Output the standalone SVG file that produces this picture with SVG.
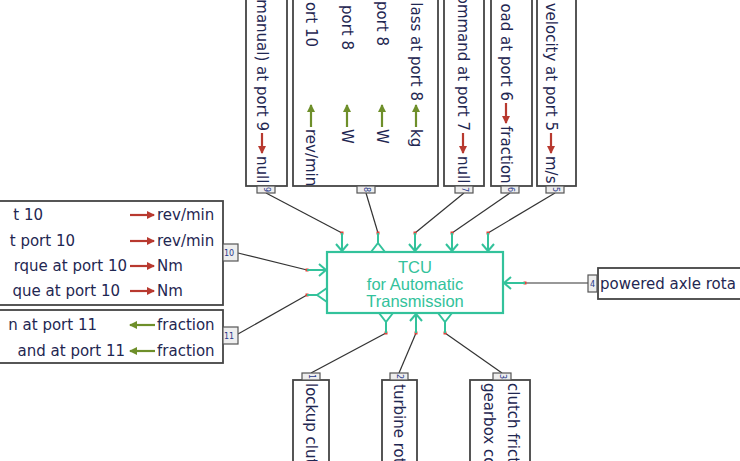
<svg xmlns="http://www.w3.org/2000/svg" width="740" height="461" viewBox="0 0 740 461">
  <style>
    .box { fill: #ffffff; stroke: #444444; stroke-width: 1.8; }
    .tab { fill: #eeeeee; stroke: #555555; stroke-width: 1.2; }
    .tabtxt { font-family: "DejaVu Sans", sans-serif; font-size: 8px; fill: #2a3a8a; }
    .lbl { font-family: "DejaVu Sans", sans-serif; font-size: 15px; fill: #1f2752; }
    .red { stroke: #b8392f; stroke-width: 2.2; fill: none; marker-end: url(#headRed); }
    .grn { stroke: #6e8f2a; stroke-width: 2.2; fill: none; marker-end: url(#headGrn); }
    .wire { stroke: #333333; stroke-width: 1.2; fill: none; }
    .dot { fill: #e0443a; }
    .tcu { fill: #ffffff; stroke: #33c29b; stroke-width: 2.2; }
    .port { stroke: #33c29b; stroke-width: 2; fill: none; stroke-linejoin: round; }
    .tcutxt { font-family: "Liberation Sans", Arial, sans-serif; font-size: 16.5px; fill: #33c29b; text-anchor: middle; }
  </style>
  <defs>
    <marker id="headRed" markerUnits="userSpaceOnUse" markerWidth="10" markerHeight="10" refX="8" refY="5" orient="auto">
      <path d="M1,1 L9,5 L1,9 Z" fill="#b8392f"/>
    </marker>
    <marker id="headGrn" markerUnits="userSpaceOnUse" markerWidth="10" markerHeight="10" refX="8" refY="5" orient="auto">
      <path d="M1,1 L9,5 L1,9 Z" fill="#6e8f2a"/>
    </marker>
  </defs>

  <!-- connectors -->
  <g id="connectors">
    <path class="wire" d="M266,193 L342,233"/>
    <path class="wire" d="M366,193 L378,233"/>
    <path class="wire" d="M464,193 L415,233"/>
    <path class="wire" d="M510,193 L452,233"/>
    <path class="wire" d="M555,193 L488,233"/>
    <path class="wire" d="M238,253 L307,270"/>
    <path class="wire" d="M238,334 L307,295"/>
    <path class="wire" d="M588,283 L525,283"/>
    <path class="wire" d="M386,333 L311,373"/>
    <path class="wire" d="M416,333 L399,373"/>
    <path class="wire" d="M445,333 L502,373"/>
    <rect class="dot" x="340.5" y="231.5" width="3" height="3"/>
    <rect class="dot" x="376.5" y="231.5" width="3" height="3"/>
    <rect class="dot" x="413.5" y="231.5" width="3" height="3"/>
    <rect class="dot" x="450.5" y="231.5" width="3" height="3"/>
    <rect class="dot" x="486.5" y="231.5" width="3" height="3"/>
    <rect class="dot" x="305.5" y="268.5" width="3" height="3"/>
    <rect class="dot" x="305.5" y="293.5" width="3" height="3"/>
    <rect class="dot" x="523.5" y="281.5" width="3" height="3"/>
    <rect class="dot" x="384.5" y="331.5" width="3" height="3"/>
    <rect class="dot" x="414.5" y="331.5" width="3" height="3"/>
    <rect class="dot" x="443.5" y="331.5" width="3" height="3"/>
  </g>

  <!-- central controller with its ports -->
  <g id="tcu">
    <rect class="tcu" x="327" y="252" width="176" height="61"/>
    <text class="tcutxt" x="415" y="273">TCU</text>
    <text class="tcutxt" x="415" y="290">for Automatic</text>
    <text class="tcutxt" x="415" y="307">Transmission</text>
    <!-- top inputs -->
    <path class="port" d="M342,233 V251 M336,244 L342,251 L348,244"/>
    <path class="port" d="M415,233 V251 M409,244 L415,251 L421,244"/>
    <path class="port" d="M452,233 V251 M446,244 L452,251 L458,244"/>
    <path class="port" d="M488,233 V251 M482,244 L488,251 L494,244"/>
    <!-- top output -->
    <path class="port" d="M378,233 V243 M371,252 L378,243 L385,252"/>
    <!-- left input / output -->
    <path class="port" d="M307,270 H326 M319,264 L326,270 L319,276"/>
    <path class="port" d="M307,295 H317 M327,288 L317,295 L327,302"/>
    <!-- right input -->
    <path class="port" d="M525,283 H504 M511,277 L504,283 L511,289"/>
    <!-- bottom outputs / input -->
    <path class="port" d="M386,333 V322 M379,313 L386,322 L393,313"/>
    <path class="port" d="M445,333 V322 M438,313 L445,322 L452,313"/>
    <path class="port" d="M416,333 V314 M410,321 L416,314 L422,321"/>
  </g>

  <!-- top blocks -->
  <g id="port9">
    <rect class="box" x="246" y="-6" width="41" height="192"/>
    <rect class="tab" x="257" y="186" width="18" height="7"/>
    <text class="tabtxt" transform="translate(264,187) rotate(90)">9</text>
    <text class="lbl" text-anchor="end" transform="translate(257,131) rotate(90)">manual) at port 9</text>
    <path class="red" d="M262,133 V153"/>
    <text class="lbl" transform="translate(257,156) rotate(90)">null</text>
  </g>

  <g id="port8">
    <rect class="box" x="293" y="-6" width="145" height="192"/>
    <rect class="tab" x="357" y="186" width="18" height="7"/>
    <text class="tabtxt" transform="translate(364,187) rotate(90)">8</text>
    <text class="lbl" text-anchor="end" transform="translate(306,47) rotate(90)">ort 10</text>
    <text class="lbl" text-anchor="end" transform="translate(342,50) rotate(90)">port 8</text>
    <text class="lbl" text-anchor="end" transform="translate(377,46) rotate(90)">port 8</text>
    <text class="lbl" text-anchor="end" transform="translate(411,101) rotate(90)">lass at port 8</text>
    <path class="grn" d="M311,127 V105"/>
    <path class="grn" d="M347,127 V105"/>
    <path class="grn" d="M382,127 V105"/>
    <path class="grn" d="M416,127 V105"/>
    <text class="lbl" transform="translate(306,129) rotate(90)">rev/min</text>
    <text class="lbl" transform="translate(342,129) rotate(90)">W</text>
    <text class="lbl" transform="translate(377,129) rotate(90)">W</text>
    <text class="lbl" transform="translate(411,129) rotate(90)">kg</text>
  </g>

  <g id="port7">
    <rect class="box" x="444" y="-6" width="40" height="192"/>
    <rect class="tab" x="455" y="186" width="18" height="7"/>
    <text class="tabtxt" transform="translate(462,187) rotate(90)">7</text>
    <text class="lbl" text-anchor="end" transform="translate(458,131) rotate(90)">ommand at port 7</text>
    <path class="red" d="M463,133 V153"/>
    <text class="lbl" transform="translate(458,156) rotate(90)">null</text>
  </g>

  <g id="port6">
    <rect class="box" x="491" y="-6" width="41" height="192"/>
    <rect class="tab" x="501" y="186" width="18" height="7"/>
    <text class="tabtxt" transform="translate(508,187) rotate(90)">6</text>
    <text class="lbl" text-anchor="end" transform="translate(501,101) rotate(90)">oad at port 6</text>
    <path class="red" d="M506,103 V123"/>
    <text class="lbl" transform="translate(501,126) rotate(90)">fraction</text>
  </g>

  <g id="port5">
    <rect class="box" x="537" y="-6" width="39" height="192"/>
    <rect class="tab" x="546" y="186" width="18" height="7"/>
    <text class="tabtxt" transform="translate(553,187) rotate(90)">5</text>
    <text class="lbl" text-anchor="end" transform="translate(546,131) rotate(90)">velocity at port 5</text>
    <path class="red" d="M551,133 V153"/>
    <text class="lbl" transform="translate(546,156) rotate(90)">m/s</text>
  </g>

  <!-- left blocks -->
  <g id="port10">
    <rect class="box" x="-6" y="201" width="229" height="104"/>
    <rect class="tab" x="223" y="244" width="15" height="17"/>
    <text class="tabtxt" x="224" y="256">10</text>
    <text class="lbl" text-anchor="end" x="43" y="220">t 10</text>
    <text class="lbl" text-anchor="end" x="75" y="246">t port 10</text>
    <text class="lbl" text-anchor="end" x="127" y="271">rque at port 10</text>
    <text class="lbl" text-anchor="end" x="120" y="296">que at port 10</text>
    <path class="red" d="M130,215 H154"/>
    <path class="red" d="M130,241 H154"/>
    <path class="red" d="M130,266 H154"/>
    <path class="red" d="M130,291 H154"/>
    <text class="lbl" x="157" y="220">rev/min</text>
    <text class="lbl" x="157" y="246">rev/min</text>
    <text class="lbl" x="157" y="271">Nm</text>
    <text class="lbl" x="157" y="296">Nm</text>
  </g>

  <g id="port11">
    <rect class="box" x="-6" y="310" width="229" height="53"/>
    <rect class="tab" x="223" y="327" width="15" height="17"/>
    <text class="tabtxt" x="224" y="339">11</text>
    <text class="lbl" text-anchor="end" x="97" y="330">n at port 11</text>
    <text class="lbl" text-anchor="end" x="125" y="356">and at port 11</text>
    <path class="grn" d="M155,325 H130"/>
    <path class="grn" d="M155,351 H130"/>
    <text class="lbl" x="157" y="330">fraction</text>
    <text class="lbl" x="157" y="356">fraction</text>
  </g>

  <!-- right block -->
  <g id="port4">
    <rect class="box" x="598" y="268" width="150" height="31"/>
    <rect class="tab" x="588" y="275" width="9" height="17"/>
    <text class="tabtxt" x="590" y="287">4</text>
    <text class="lbl" x="600" y="289">powered axle rota</text>
  </g>

  <!-- bottom blocks -->
  <g id="port1">
    <rect class="box" x="293" y="380" width="36" height="90"/>
    <rect class="tab" x="302" y="373" width="18" height="7"/>
    <text class="tabtxt" transform="translate(309,374) rotate(90)">1</text>
    <text class="lbl" transform="translate(306,383) rotate(90)">lockup clut</text>
  </g>

  <g id="port2">
    <rect class="box" x="382" y="380" width="35" height="90"/>
    <rect class="tab" x="390" y="373" width="18" height="7"/>
    <text class="tabtxt" transform="translate(397,374) rotate(90)">2</text>
    <text class="lbl" transform="translate(394,384) rotate(90)">turbine rot</text>
  </g>

  <g id="port3">
    <rect class="box" x="470" y="380" width="60" height="90"/>
    <rect class="tab" x="493" y="373" width="18" height="7"/>
    <text class="tabtxt" transform="translate(500,374) rotate(90)">3</text>
    <text class="lbl" transform="translate(508,383) rotate(90)">clutch fricti</text>
    <text class="lbl" transform="translate(484,383) rotate(90)">gearbox co</text>
  </g>
</svg>
